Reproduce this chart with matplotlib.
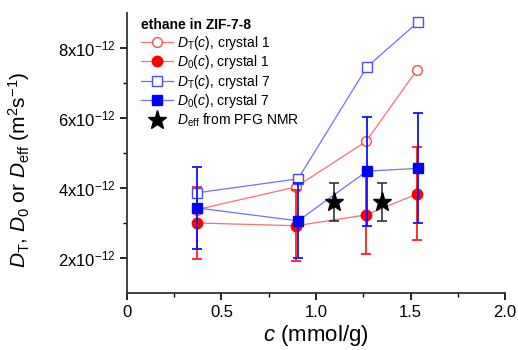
import matplotlib
matplotlib.use("Agg")
import matplotlib.pyplot as plt
from matplotlib.lines import Line2D
from matplotlib.ticker import FixedLocator, MultipleLocator

plt.rcParams['font.family'] = ['Liberation Sans', 'DejaVu Sans']
plt.rcParams['mathtext.fontset'] = 'custom'
plt.rcParams['mathtext.rm'] = 'Liberation Sans'
plt.rcParams['mathtext.it'] = 'Liberation Sans:italic'
plt.rcParams['mathtext.bf'] = 'Liberation Sans:bold'

# concentrations (mmol/g)
c1 = [0.37, 0.895, 1.265, 1.535]
c7 = [0.37, 0.905, 1.27, 1.54]
# values in units of 1e-12 m^2/s
DT_1 = [3.38, 4.03, 5.33, 7.38]
D0_1 = [3.00, 2.92, 3.23, 3.83]
D0_1_err = [1.03, 1.02, 1.13, 1.33]
DT_7 = [3.86, 4.26, 7.46, 8.74]
D0_7 = [3.43, 3.06, 4.48, 4.56]
D0_7_err = [1.18, 1.07, 1.56, 1.57]
c_pfg = [1.095, 1.35]
D_eff = [3.60, 3.60]
D_eff_err = [0.55, 0.55]

ytick_vals = [2, 4, 6, 8]
ytick_labels = [r'%dx10$^{-12}$' % v for v in ytick_vals]
xtick_vals = [0, 0.5, 1.0, 1.5, 2.0]
xtick_labels = ['0', '0.5', '1.0', '1.5', '2.0']

scale = 1e-12
def s(v):
    return [x * scale for x in v]

fig = plt.figure(figsize=(5.18, 3.5), dpi=100)
ax = fig.add_axes([0.245, 0.163, 0.73, 0.80])

red_line = '#FF6E6E'
blue_line = '#7070FF'

# crystal 1
ax.plot(c1, s(DT_1), '-', color=red_line, lw=0.9, marker='o', ms=7,
        mfc='white', mec='#FF4C4C', mew=1.0, zorder=3)
ax.errorbar(c1, s(D0_1), yerr=s(D0_1_err), fmt='none', ecolor='#FF2020',
            elinewidth=1.3, capsize=3.5, capthick=1.3, zorder=4)
ax.plot(c1, s(D0_1), '-', color=red_line, lw=0.9, marker='o', ms=7.5,
        mfc='red', mec='red', zorder=5)
# crystal 7
ax.plot(c7, s(DT_7), '-', color=blue_line, lw=0.9, marker='s', ms=6.5,
        mfc='white', mec='#4C4CFF', mew=1.0, zorder=6)
ax.errorbar(c7, s(D0_7), yerr=s(D0_7_err), fmt='none', ecolor='#1010FF',
            elinewidth=1.3, capsize=3.5, capthick=1.3, zorder=7)
ax.plot(c7, s(D0_7), '-', color=blue_line, lw=0.9, marker='s', ms=7,
        mfc='blue', mec='blue', zorder=8)
# PFG NMR
ax.errorbar(c_pfg, s(D_eff), yerr=s(D_eff_err), fmt='none', ecolor='#333333',
            elinewidth=1.2, capsize=3.5, capthick=1.2, zorder=9)
ax.plot(c_pfg, s(D_eff), linestyle='none', marker='*', ms=14, color='black',
        zorder=10)

ax.set_xlim(0, 2.0)
ax.set_ylim(1e-12, 9e-12)
ax.xaxis.set_major_locator(FixedLocator(xtick_vals))
ax.set_xticklabels(xtick_labels)
ax.xaxis.set_minor_locator(MultipleLocator(0.25))
ax.yaxis.set_major_locator(FixedLocator(s(ytick_vals)))
ax.set_yticklabels(ytick_labels)
ax.yaxis.set_minor_locator(FixedLocator(s([3, 5, 7])))
ax.tick_params(axis='both', which='major', labelsize=12, length=5, width=1.2,
               direction='out')
ax.tick_params(axis='both', which='minor', length=3, width=1.0, direction='out')

for sp in ['top', 'right']:
    ax.spines[sp].set_visible(False)
for sp in ['left', 'bottom']:
    ax.spines[sp].set_linewidth(1.3)
    ax.spines[sp].set_color('#333333')

ax.set_xlabel(r'$c$ (mmol/g)', fontsize=16, labelpad=2)
ax.set_ylabel(r'$D_\mathrm{T}$, $D_0$ or $D_\mathrm{eff}$ (m$^2$s$^{-1}$)',
              fontsize=15)
ax.yaxis.set_label_coords(-0.25, 0.44)

handles = [
    Line2D([], [], color=red_line, lw=0.9, marker='o', ms=7, mfc='white', mec='#FF4C4C'),
    Line2D([], [], color=red_line, lw=0.9, marker='o', ms=7.5, mfc='red', mec='red'),
    Line2D([], [], color=blue_line, lw=0.9, marker='s', ms=6.5, mfc='white', mec='#4C4CFF'),
    Line2D([], [], color=blue_line, lw=0.9, marker='s', ms=7, mfc='blue', mec='blue'),
    Line2D([], [], linestyle='none', marker='*', ms=14, color='black'),
]
labels = [r'$D_\mathrm{T}(c)$, crystal 1', r'$D_0(c)$, crystal 1',
          r'$D_\mathrm{T}(c)$, crystal 7', r'$D_0(c)$, crystal 7',
          r'$D_\mathrm{eff}$ from PFG NMR']
leg = ax.legend(handles, labels, loc='upper left', bbox_to_anchor=(0.015, 1.01),
                frameon=False, fontsize=10, title='ethane in ZIF-7-8',
                title_fontproperties={'weight': 'bold', 'size': 10},
                handlelength=2.3, handletextpad=0.3, labelspacing=0.1,
                borderaxespad=0.2)
leg._legend_box.align = 'left'

fig.savefig('out.png', dpi=100)
